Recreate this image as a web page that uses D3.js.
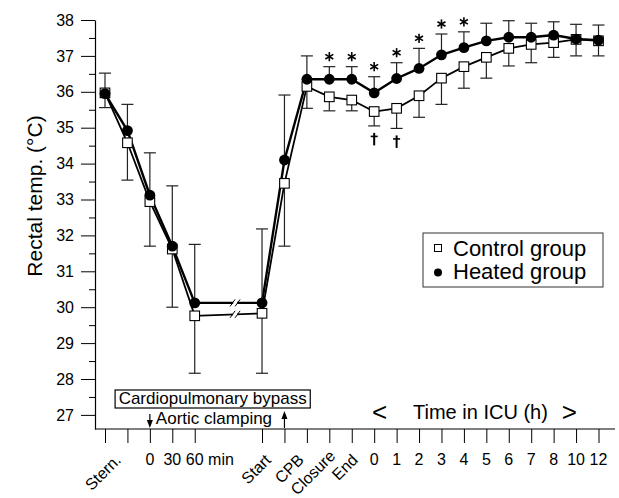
<!DOCTYPE html>
<html>
<head>
<meta charset="utf-8">
<script src="https://cdn.jsdelivr.net/npm/d3@7"></script>
<style>
  body { margin: 0; background: #fff; }
  svg { display: block; }
  text { font-family: "Liberation Sans", Arial, Helvetica, sans-serif; fill: #000; }
</style>
</head>
<body>
<svg id="chart" width="619" height="498"></svg>
<script>
// time points (x categories) and their tick labels
var labels = ['Stern.', '', '0', '30', '60 min', 'Start', '', 'CPB', 'Closure', 'End',
  '0', '1', '2', '3', '4', '5', '6', '7', '8', '10', '12'];
var rotated = ['Stern.', 'Start', 'CPB', 'Closure', 'End'];

// rectal temperature (°C), means and one-sided SD bars
var heated = [35.95, 34.92, 33.12, 31.7, 30.12, 30.12, 34.1, 36.35, 36.35, 36.35, 35.97,
  36.37, 36.65, 37.03, 37.23, 37.42, 37.52, 37.52, 37.58, 37.47, 37.44];
var heatedUpper = [36.52, 35.65, 34.3, 33.38, 31.75, 32.18, 35.91, 37.0, 36.7, 36.7, 36.42,
  36.81, 37.21, 37.61, 37.67, 37.91, 37.98, 37.91, 37.95, 37.88, 37.86];
var control = [35.97, 34.58, 32.94, 31.62, 29.76, 29.83, 33.45, 36.15, 35.86, 35.77, 35.45,
  35.54, 35.89, 36.38, 36.7, 36.96, 37.21, 37.32, 37.37, 37.46, 37.42];
var controlLower = [35.56, 33.54, 31.7, 30.0, 28.16, 28.16, 31.7, 35.54, 35.47, 35.47, 35.05,
  34.98, 35.29, 35.65, 36.1, 36.38, 36.72, 36.81, 36.96, 37.0, 37.0];

// significance marks (index into the time points)
var starred = [8, 9, 10, 11, 12, 13, 14];
var daggered = [10, 11];

var yTicks = [27, 28, 29, 30, 31, 32, 33, 34, 35, 36, 37, 38];

var svg = d3.select('#chart');

// the axis is broken between 60 min and Start: leave two empty slots
function slot(i) { return i < 5 ? i : i + 2; }

var x = d3.scaleLinear().domain([0, 22]).range([105, 598.5]);
var y = d3.scaleLinear().domain([38 - 409 / 35.9, 38]).range([429, 20]);
var axisX = 95, axisY = 429;

// y axis, major + minor ticks
var yAxis = svg.append('g')
  .attr('transform', 'translate(' + axisX + ',0)')
  .call(d3.axisLeft(y).tickValues(yTicks).tickSize(14).tickSizeOuter(0).tickPadding(7));
yAxis.selectAll('text').style('font-size', '16px');
yAxis.select('.domain').attr('stroke-width', 1.2);

svg.append('g')
  .attr('transform', 'translate(' + axisX + ',0)')
  .call(d3.axisLeft(y).tickValues(yTicks.slice(0, -1).map(function(d) { return d + 0.5; }))
    .tickSize(6).tickFormat(''))
  .select('.domain').remove();

svg.append('text')
  .attr('transform', 'translate(42,196) rotate(-90)')
  .attr('text-anchor', 'middle')
  .style('font-size', '21px')
  .text('Rectal temp. (\u00B0C)');

// x axis
svg.append('line')
  .attr('x1', axisX).attr('x2', 615)
  .attr('y1', axisY).attr('y2', axisY)
  .attr('stroke', '#000').attr('stroke-width', 1.2);

var xAxis = svg.append('g')
  .attr('transform', 'translate(0,' + axisY + ')')
  .call(d3.axisBottom(x).tickValues(labels.map(function(d, i) { return slot(i); }))
    .tickSize(14).tickFormat(''));
xAxis.select('.domain').remove();

var rotOffset = { 'Stern.': [17, 461], 'Start': [10, 461], 'CPB': [-2, 461], 'Closure': [7, 457], 'End': [7, 461] };

labels.forEach(function(lab, i) {
  if (!lab) return;
  var px = x(slot(i));
  if (rotated.indexOf(lab) >= 0) {
    var o = rotOffset[lab];
    svg.append('text')
      .attr('transform', 'translate(' + (px + o[0]) + ',' + o[1] + ') rotate(-45)')
      .attr('text-anchor', 'end')
      .style('font-size', '16px')
      .text(lab);
  } else if (lab === '60 min') {
    svg.append('text')
      .attr('x', px - 8.9).attr('y', 465)
      .style('font-size', '16px')
      .text(lab);
  } else {
    svg.append('text')
      .attr('x', px).attr('y', 465)
      .attr('text-anchor', 'middle')
      .style('font-size', '16px')
      .text(lab);
  }
});

// annotations: bypass box, aortic clamping arrows, ICU span
var bx0 = x(0.45), bx1 = x(9.15);
svg.append('rect')
  .attr('x', bx0).attr('y', 390).attr('width', bx1 - bx0).attr('height', 18)
  .attr('fill', '#fff').attr('stroke', '#000').attr('stroke-width', 1.2);
svg.append('text')
  .attr('x', (bx0 + bx1) / 2).attr('y', 404)
  .attr('text-anchor', 'middle')
  .style('font-size', '17px')
  .text('Cardiopulmonary bypass');

var ax0 = x(slot(2)), ax1 = x(slot(6));
svg.append('line').attr('x1', ax0).attr('x2', ax0).attr('y1', 414).attr('y2', 421)
  .attr('stroke', '#000').attr('stroke-width', 1.2);
svg.append('path').attr('d', 'M' + (ax0 - 3) + ',420L' + (ax0 + 3) + ',420L' + ax0 + ',428Z');
svg.append('text')
  .attr('x', ax0 + 6).attr('y', 424)
  .style('font-size', '17px')
  .text('Aortic clamping');
svg.append('line').attr('x1', ax1).attr('x2', ax1).attr('y1', 418).attr('y2', 428)
  .attr('stroke', '#000').attr('stroke-width', 1.2);
svg.append('path').attr('d', 'M' + (ax1 - 3) + ',419L' + (ax1 + 3) + ',419L' + ax1 + ',411Z');

var icu = svg.append('g');
icu.append('text').attr('x', 372).attr('y', 421).style('font-size', '26px').text('<');
var icuText = icu.append('text').attr('x', 413).attr('y', 419).style('font-size', '20px')
  .text('Time in ICU (h)');
var icuEnd = 413 + icuText.node().getComputedTextLength();
icu.append('text').attr('x', icuEnd + 14).attr('y', 421).style('font-size', '26px').text('>');

// series
var line = d3.line()
  .x(function(d, i) { return x(slot(i)); })
  .y(function(d) { return y(d); });

svg.append('path').datum(control)
  .attr('fill', 'none').attr('stroke', '#000').attr('stroke-width', 1.8)
  .attr('d', line);
svg.append('path').datum(heated)
  .attr('fill', 'none').attr('stroke', '#000').attr('stroke-width', 2.4)
  .attr('d', line);

// break marks on both lines between 60 min and Start
[heated, control].forEach(function(s) {
  var xb = x(5.8);
  var t = (5.8 - slot(4)) / (slot(5) - slot(4));
  var yb = y(s[4] + (s[5] - s[4]) * t);
  svg.append('rect').attr('x', xb - 2).attr('y', yb - 3).attr('width', 4).attr('height', 6)
    .attr('fill', '#fff');
  [-2.5, 2.5].forEach(function(dx) {
    svg.append('line')
      .attr('x1', xb + dx - 2.5).attr('y1', yb + 3.5)
      .attr('x2', xb + dx + 2.5).attr('y2', yb - 3.5)
      .attr('stroke', '#000').attr('stroke-width', 1);
  });
});

// SD bars: heated upward, control downward
function bars(mean, end) {
  var g = svg.append('g').attr('stroke', '#222').attr('stroke-width', 1.2);
  mean.forEach(function(m, i) {
    var px = x(slot(i));
    g.append('line').attr('x1', px).attr('x2', px).attr('y1', y(m)).attr('y2', y(end[i]));
    g.append('line').attr('x1', px - 6).attr('x2', px + 6).attr('y1', y(end[i])).attr('y2', y(end[i]));
  });
}
bars(heated, heatedUpper);
bars(control, controlLower);

svg.append('g').selectAll('rect').data(control).enter().append('rect')
  .attr('x', function(d, i) { return x(slot(i)) - 4.8; })
  .attr('y', function(d) { return y(d) - 4.8; })
  .attr('width', 9.6).attr('height', 9.6)
  .attr('fill', '#fff').attr('stroke', '#000').attr('stroke-width', 1.1);

svg.append('g').selectAll('circle').data(heated).enter().append('circle')
  .attr('cx', function(d, i) { return x(slot(i)); })
  .attr('cy', function(d) { return y(d); })
  .attr('r', 5.4).attr('fill', '#000');

// six-armed asterisks above the heated SD bars
starred.forEach(function(i) {
  var px = x(slot(i)), cy = y(heatedUpper[i]) - 10;
  var g = svg.append('g').attr('stroke', '#000').attr('stroke-width', 1.6);
  [90, 30, 150].forEach(function(a) {
    var r = a * Math.PI / 180, dx = 4.6 * Math.cos(r), dy = 4.6 * Math.sin(r);
    g.append('line').attr('x1', px - dx).attr('y1', cy - dy).attr('x2', px + dx).attr('y2', cy + dy);
  });
});
// dagger drawn as strokes so it stays crisp and black
daggered.forEach(function(i) {
  var px = x(slot(i)), cy = y(controlLower[i]) + 13;
  var g = svg.append('g').attr('stroke', '#000');
  g.append('line').attr('x1', px).attr('x2', px).attr('y1', cy - 6).attr('y2', cy + 6.5)
    .attr('stroke-width', 2);
  g.append('line').attr('x1', px - 3.5).attr('x2', px + 3.5).attr('y1', cy - 2.5).attr('y2', cy - 2.5)
    .attr('stroke-width', 1.6);
});

// legend
var lg = svg.append('g');
lg.append('rect').attr('x', 423).attr('y', 233).attr('width', 180).attr('height', 54)
  .attr('fill', '#fff').attr('stroke', '#333').attr('stroke-width', 1);
lg.append('rect').attr('x', 434.5).attr('y', 244.5).attr('width', 7).attr('height', 7)
  .attr('fill', '#fff').attr('stroke', '#000').attr('stroke-width', 1);
lg.append('circle').attr('cx', 438).attr('cy', 272.5).attr('r', 4).attr('fill', '#000');
lg.append('text').attr('x', 453).attr('y', 256).style('font-size', '22px').text('Control group');
lg.append('text').attr('x', 453).attr('y', 279).style('font-size', '22px').text('Heated group');
</script>
</body>
</html>
